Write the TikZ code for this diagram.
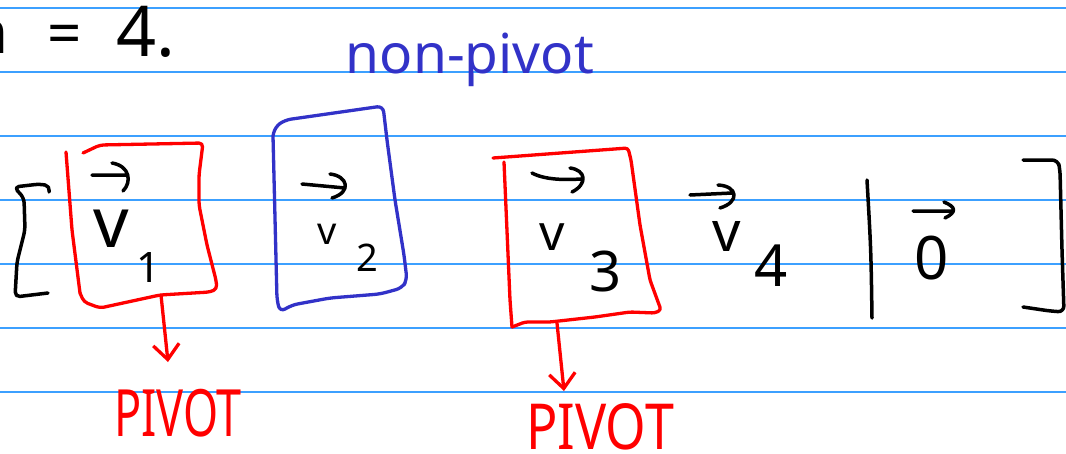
\documentclass[tikz,border=0pt]{standalone}
\usepackage{fontspec}
\setmainfont{Noto Sans}
\usetikzlibrary{arrows.meta}
\definecolor{rulecol}{RGB}{60,160,255}
\definecolor{inkblue}{RGB}{50,50,200}
\definecolor{inkred}{RGB}{255,0,0}
\tikzset{
  ruleline/.style={draw=rulecol, line width=1.4pt},
  blackink/.style={draw=black, line width=3.5pt, line cap=round, line join=round},
  redink/.style={draw=inkred, line width=3.3pt, line cap=round, line join=round},
  blueink/.style={draw=inkblue, line width=3.3pt, line cap=round, line join=round},
  pivarrow/.style={redink, -{Straight Barb[length=15pt,width=26pt,line width=3.3pt]}},
  hand/.style={inner sep=0pt, outer sep=0pt},
}
\newcommand{\fs}[1]{\fontsize{#1}{#1}\selectfont}
\begin{document}
\begin{tikzpicture}[x=1pt,y=-1pt]
\useasboundingbox (0,0) rectangle (1066,453);
\clip (0,0) rectangle (1066,453);
\fill[white] (0,0) rectangle (1066,453);
\foreach \yy in {8,72,...,392} \draw[ruleline] (0,\yy) -- (1066,\yy);

% n = 4.
\node[hand, font=\fs{60}, anchor=base east] (nvar) at (9,53) {n};
\node[hand, font=\fs{60}] (eq) at (65,40) {=};
\node[hand, font=\fs{70}, anchor=base west] (four) at (116,56) {4.};

% non-pivot label
\node[hand, font=\fs{55}, text=inkblue, anchor=base] (nonpiv) at (470,73) {non-pivot};

% brackets and bar
\draw[blackink, rounded corners=5pt] (49,192) -- (50,186) -- (40,184) -- (14,187) -- (24,198) -- (25,230) -- (17,262) -- (15,297) -- (48,293);
\draw[blackink, rounded corners=6pt] (1023,160) -- (1058,160) -- (1060,170) -- (1062,250) -- (1064,312) -- (1050,311) -- (1023,307);
\draw[blackink] (867,180) .. controls (871,250) .. (872,318);

% box 1 (red)
\draw[redink, rounded corners=4pt] (66,152) -- (72,230) -- (80,293);
\draw[redink, rounded corners=4pt] (83,153) -- (100,145) -- (203,143) -- (199,175) -- (199,205) -- (207,245) -- (216,280) -- (217,289) -- (210,292) -- (160,295) -- (100,308) -- (84,302) -- (80,293);
\coordinate (b1bot) at (161,295);

% box 2 (blue)
\draw[blueink, rounded corners=6pt] (273,136) -- (275,127) -- (285,120) -- (383,106) -- (387,140) -- (395,200) -- (404,255) -- (407,280) -- (402,288) -- (380,294) -- (330,298) -- (292,305) -- (280,312) -- (277,300) -- (273,136);

% box 3 (red)
\draw[redink, rounded corners=3pt] (493,158) -- (628,148) -- (631,160) -- (640,225) -- (650,280) -- (661,310) -- (655,313) -- (630,312) -- (595,317) -- (550,322) -- (525,322) -- (512,327);
\draw[redink, rounded corners=3pt] (504,162) -- (510,300) -- (512,327);
\coordinate (b3bot) at (557,323);

% vectors (hand-drawn arrows over the letters)
\draw[blackink] (92,175) -- (126,175)
  (112,163) .. controls (130,166) and (132,182) .. (123,191);
\node[hand, font=\fs{70}] (v1) at (111,229) {v};
\node[hand, font=\fs{42}] (s1) at (149,268) {1};

\draw[blackink] (302,184) -- (345,188)
  (330,174) .. controls (348,176) and (352,192) .. (332,198);
\node[hand, font=\fs{38}] (v2) at (327,234) {v};
\node[hand, font=\fs{38}] (s2) at (367,258) {2};

\draw[blackink] (532,173) .. controls (545,180) and (565,180) .. (581,179)
  (570,168) .. controls (586,170) and (588,184) .. (572,192);
\node[hand, font=\fs{50}] (v3) at (552,237) {v};
\node[hand, font=\fs{56}] (s3) at (606,272) {3};

\draw[blackink] (690,195) -- (732,193)
  (718,185) .. controls (738,186) and (740,202) .. (720,208);
\node[hand, font=\fs{56}] (v4) at (727,236) {v};
\node[hand, font=\fs{58}] (s4) at (771,266) {4};

\draw[blackink] (913,211) -- (953,211)
  (944,202) .. controls (956,207) and (957,212) .. (945,218);
\node[hand, font=\fs{60}] (zero) at (932,258) {0};

% pivot labels and arrows
\node[hand, font=\fs{45}, text=inkred] (piv1) at (178,413) {\scalebox{1}[1.45]{PIVOT}};
\node[hand, font=\fs{52}, text=inkred] (piv3) at (600,427) {\scalebox{1}[1.22]{PIVOT}};
\coordinate (t1) at (168,362);
\coordinate (t3) at (564,391);
\draw[pivarrow] (b1bot) -- (t1);
\draw[pivarrow] (b3bot) -- (t3);
\end{tikzpicture}
\end{document}
